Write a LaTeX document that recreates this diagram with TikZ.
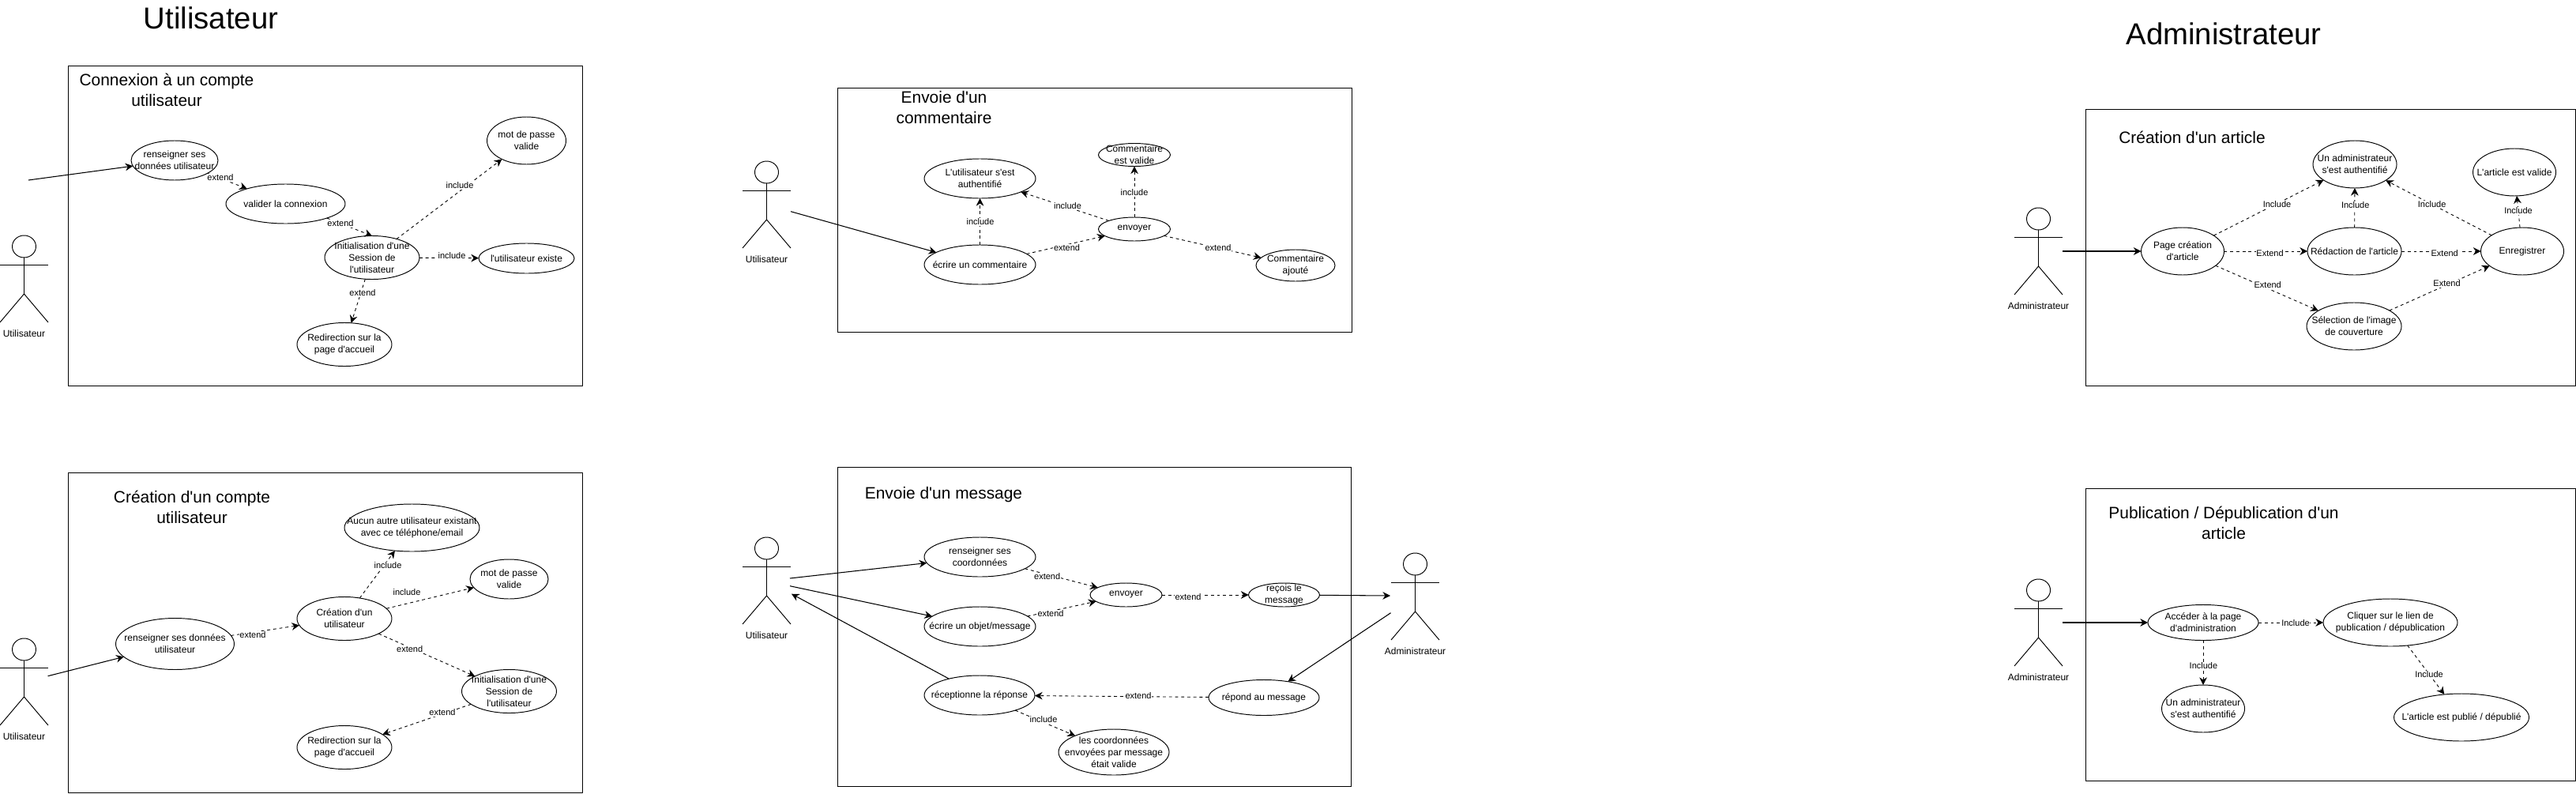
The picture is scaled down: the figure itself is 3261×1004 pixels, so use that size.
\documentclass[tikz,border=0pt]{standalone}
\usepackage{fontspec}
\setmainfont{Liberation Sans}[Ligatures=TeXOff]
\usetikzlibrary{arrows.meta,shapes.geometric}

\tikzset{
  cas/.style 2 args={ellipse,draw,inner sep=0pt,outer sep=0pt,line width=0.55pt,
    minimum width=#1*0.02cm,minimum height=#2*0.02cm},
  castxt/.style={inner sep=0pt,align=center,font=\fontsize{6.83}{8.54}\selectfont},
  libelle/.style={fill=white,inner sep=0.4pt,font=\fontsize{6.26}{7.5}\selectfont},
  titre/.style={font=\fontsize{21.8}{26}\selectfont},
  soustitre/.style={align=center,font=\fontsize{11.9}{14.6}\selectfont},
  cadre/.style={draw,line width=0.55pt},
  fleche/.style={-{Stealth[length=5.5pt,width=5.5pt]},line width=0.6pt},
  tiret/.style={-{Stealth[length=5.5pt,width=5.5pt]},line width=0.5pt,dash pattern=on 2.2pt off 2.2pt},
  pics/acteur/.style={code={
    \draw[line width=0.55pt] (0,14) ellipse [x radius=15,y radius=14];
    \draw[line width=0.55pt] (-30.5,37) -- (30.5,37);
    \draw[line width=0.55pt] (0,28) -- (0,74);
    \draw[line width=0.55pt] (-30.5,110) -- (0,74) -- (30.5,110);
    \node[castxt] (-nom) at (0,124) {#1};
  }},
}

\begin{document}
\begin{tikzpicture}[x=0.02cm,y=-0.02cm]
\path[use as bounding box,fill=white] (0,0) rectangle (3261,1004);

% Titres
\node[titre] (tu) at (267,23) {Utilisateur};
\node[titre] (ta) at (2815,43) {Administrateur};

% Cadres
\draw[cadre] (86,83) rectangle (737,488);
\draw[cadre] (86,598) rectangle (737,1003);
\draw[cadre] (1060,111) rectangle (1711,420);
\draw[cadre] (1060,591) rectangle (1710,995);
\draw[cadre] (2640,138) rectangle (3260,488);
\draw[cadre] (2640,618) rectangle (3260,988);

% Acteurs
\pic (ut1) at (30.5,298) {acteur=Utilisateur};
\pic (ut2) at (30.5,808) {acteur=Utilisateur};
\pic (ut3) at (970.5,204) {acteur=Utilisateur};
\pic (ut4) at (970.5,680) {acteur=Utilisateur};
\pic (ad1) at (1791.5,700) {acteur=Administrateur};
\pic (ad2) at (2580.5,263) {acteur=Administrateur};
\pic (ad3) at (2580.5,733) {acteur=Administrateur};

% Connexion
\node[soustitre] (st1) at (211,114) {Connexion à un compte\\utilisateur};
\node[cas={110}{50},label={[castxt]center:{renseigner ses\\données utilisateur}}] (ren1) at (221,203) {};
\node[cas={151}{50},label={[castxt]center:{valider la connexion}}] (val1) at (361.5,258) {};
\node[cas={120}{55},label={[castxt]center:{Initialisation d'une\\Session de\\l'utilisateur}}] (ini1) at (471,326) {};
\node[cas={100}{60},label={[castxt]center:{mot de passe\\valide}}] (mot1) at (666.5,178) {};
\node[cas={121}{38},label={[castxt]center:{l'utilisateur existe}}] (exi1) at (666.5,327) {};
\node[cas={120}{55},label={[castxt]center:{Redirection sur la\\page d'accueil}}] (red1) at (436,436) {};

% Création de compte
\node[soustitre] (st2) at (243,642) {Création d'un compte\\utilisateur};
\node[cas={150}{65},label={[castxt]center:{renseigner ses données\\utilisateur}}] (ren2) at (221.5,815) {};
\node[cas={120}{55},label={[castxt]center:{Création d'un\\utilisateur}}] (cre2) at (436,783) {};
\node[cas={171}{60},label={[castxt]center:{Aucun autre utilisateur existant\\avec ce téléphone/email}}] (auc2) at (521.5,668) {};
\node[cas={99}{50},label={[castxt]center:{mot de passe\\valide}}] (mot2) at (644.5,733) {};
\node[cas={120}{55},label={[castxt]center:{Initialisation d'une\\Session de\\l'utilisateur}}] (ini2) at (644.5,875) {};
\node[cas={120}{55},label={[castxt]center:{Redirection sur la\\page d'accueil}}] (red2) at (436,946) {};

% Commentaire
\node[soustitre] (st3) at (1195,136) {Envoie d'un\\commentaire};
\node[cas={141}{50},label={[castxt]center:{L'utilisateur s'est\\authentifié}}] (aut3) at (1240.5,226) {};
\node[cas={141}{50},label={[castxt]center:{écrire un commentaire}}] (ecr3) at (1240.5,335) {};
\node[cas={91}{30},label={[castxt]center:{envoyer}}] (env3) at (1436,290) {};
\node[cas={91}{29},label={[castxt]center:{Commentaire\\est valide}}] (com3) at (1436,196) {};
\node[cas={100}{40},label={[castxt]center:{Commentaire\\ajouté}}] (ajo3) at (1640,336) {};

% Message
\node[soustitre] (st4) at (1194.5,626) {Envoie d'un message};
\node[cas={141}{50},label={[castxt]center:{renseigner ses\\coordonnées}}] (coo4) at (1240.5,705) {};
\node[cas={141}{50},label={[castxt]center:{écrire un objet/message}}] (obj4) at (1240.5,793) {};
\node[cas={91}{30},label={[castxt]center:{envoyer}}] (env4) at (1425.5,753) {};
\node[cas={90}{30},label={[castxt]center:{reçois le\\message}}] (rec4) at (1625.5,753) {};
\node[cas={140}{45},label={[castxt]center:{répond au message}}] (rep4) at (1600,883) {};
\node[cas={140}{50},label={[castxt]center:{réceptionne la réponse}}] (rcp4) at (1240,880) {};
\node[cas={140}{58},label={[castxt]center:{les coordonnées\\envoyées par message\\était valide}}] (les4) at (1410,952) {};

% Article
\node[soustitre] (st5) at (2775,174) {Création d'un article};
\node[cas={105}{60},label={[castxt]center:{Page création\\d'article}}] (pag5) at (2763,318) {};
\node[cas={119}{60},label={[castxt]center:{Rédaction de l'article}}] (red5) at (2980.5,318) {};
\node[cas={105}{60},label={[castxt]center:{Enregistrer}}] (enr5) at (3193,318) {};
\node[cas={106}{60},label={[castxt]center:{Un administrateur\\s'est authentifié}}] (adm5) at (2981,208) {};
\node[cas={105}{60},label={[castxt]center:{L'article est valide}}] (val5) at (3183,218) {};
\node[cas={120}{60},label={[castxt]center:{Sélection de l'image\\de couverture}}] (sel5) at (2980,413) {};

% Publication
\node[soustitre] (st6) at (2815,662) {Publication / Dépublication d'un\\article};
\node[cas={140}{45},label={[castxt]center:{Accéder à la page\\d'administration}}] (acc6) at (2789,788) {};
\node[cas={170}{60},label={[castxt]center:{Cliquer sur le lien de\\publication / dépublication}}] (cli6) at (3026,788) {};
\node[cas={105}{60},label={[castxt]center:{Un administrateur\\s'est authentifié}}] (adm6) at (2789,897) {};
\node[cas={171}{60},label={[castxt]center:{L'article est publié / dépublié}}] (pub6) at (3116,908) {};

% Bouts libres des flèches
\coordinate (p1) at (36,228);
\coordinate (p2) at (60.6,855.7);
\coordinate (p3) at (1001,267.7);
\coordinate (p4a) at (1000,732);
\coordinate (p4b) at (1000,741.7);
\coordinate (p4c) at (1002,751.7);
\coordinate (p4d) at (1760,754);
\coordinate (p4e) at (1760.6,775.7);
\coordinate (p5) at (2611,318);
\coordinate (p6) at (2611,788);

% ========== liens ==========
% Connexion
\draw[fleche] (p1)--(ren1);
\draw[tiret] (ren1)--(val1);
\draw[tiret] (val1.-19)--(ini1.north);
\draw[tiret] (ini1)--(mot1);
\draw[tiret] (ini1)--(exi1);
\draw[tiret] (ini1)--(red1);

% Création de compte
\draw[fleche] (p2)--(ren2);
\draw[tiret] (ren2)--(cre2);
\draw[tiret] (cre2)--(auc2);
\draw[tiret] (cre2)--(mot2);
\draw[tiret] (cre2)--(ini2);
\draw[tiret] (ini2)--(red2);

% Commentaire
\draw[fleche] (p3)--(ecr3);
\draw[tiret] (ecr3)--(aut3);
\draw[tiret] (ecr3)--(env3);
\draw[tiret] (env3)--(aut3);
\draw[tiret] (env3)--(com3);
\draw[tiret] (env3)--(ajo3);

% Message
\draw[fleche] (p4a)--(coo4);
\draw[fleche] (p4b)--(obj4);
\draw[fleche] (rcp4)--(p4c);
\draw[tiret] (coo4)--(env4);
\draw[tiret] (obj4)--(env4);
\draw[tiret] (env4)--(rec4);
\draw[fleche] (rec4)--(p4d);
\draw[fleche] (p4e)--(rep4);
\draw[tiret] (rep4)--(rcp4);
\draw[tiret] (rcp4)--(les4);

% Article
\draw[fleche] (p5)--(pag5);
\draw[tiret] (pag5)--(adm5);
\draw[tiret] (pag5)--(red5);
\draw[tiret] (pag5)--(sel5);
\draw[tiret] (red5)--(adm5);
\draw[tiret] (red5)--(enr5);
\draw[tiret] (enr5)--(adm5);
\draw[tiret] (enr5)--(val5);
\draw[tiret] (sel5)--(enr5);

% Publication
\draw[fleche] (p6)--(acc6);
\draw[tiret] (acc6)--(cli6);
\draw[tiret] (acc6)--(adm6);
\draw[tiret] (cli6)--(pub6);

% ========== libellés ==========
\node[libelle] (l11) at (279,225) {extend};
\node[libelle] (l12) at (431,283) {extend};
\node[libelle] (l13) at (582,235) {include};
\node[libelle] (l14) at (572,324) {include};
\node[libelle] (l15) at (459,371) {extend};

\node[libelle] (l21) at (320,804) {extend};
\node[libelle] (l22) at (491,716) {include};
\node[libelle] (l23) at (515,750) {include};
\node[libelle] (l24) at (518.7,822) {extend};
\node[libelle] (l25) at (560,902) {extend};

\node[libelle] (l31) at (1241,281) {include};
\node[libelle] (l32) at (1350.5,314) {extend};
\node[libelle] (l33) at (1351.5,261) {include};
\node[libelle] (l34) at (1436,244) {include};
\node[libelle] (l35) at (1542,314) {extend};

\node[libelle] (l41) at (1325.7,730) {extend};
\node[libelle] (l42) at (1330,777) {extend};
\node[libelle] (l43) at (1504,756) {extend};
\node[libelle] (l44) at (1441,881) {extend};
\node[libelle] (l45) at (1321,911) {include};

\node[libelle] (l51) at (2882.5,259) {Include};
\node[libelle] (l52) at (2873.5,321) {Extend};
\node[libelle] (l53) at (2870.7,361) {Extend};
\node[libelle] (l54) at (2981.7,260) {Include};
\node[libelle] (l55) at (3094.7,321) {Extend};
\node[libelle] (l56) at (3078.6,259) {Include};
\node[libelle] (l57) at (3188,267) {Include};
\node[libelle] (l58) at (3097.5,359) {Extend};

\node[libelle] (l61) at (2906,789) {Include};
\node[libelle] (l62) at (2789.4,843) {Include};
\node[libelle] (l63) at (3075,854) {Include};
\end{tikzpicture}
\end{document}
